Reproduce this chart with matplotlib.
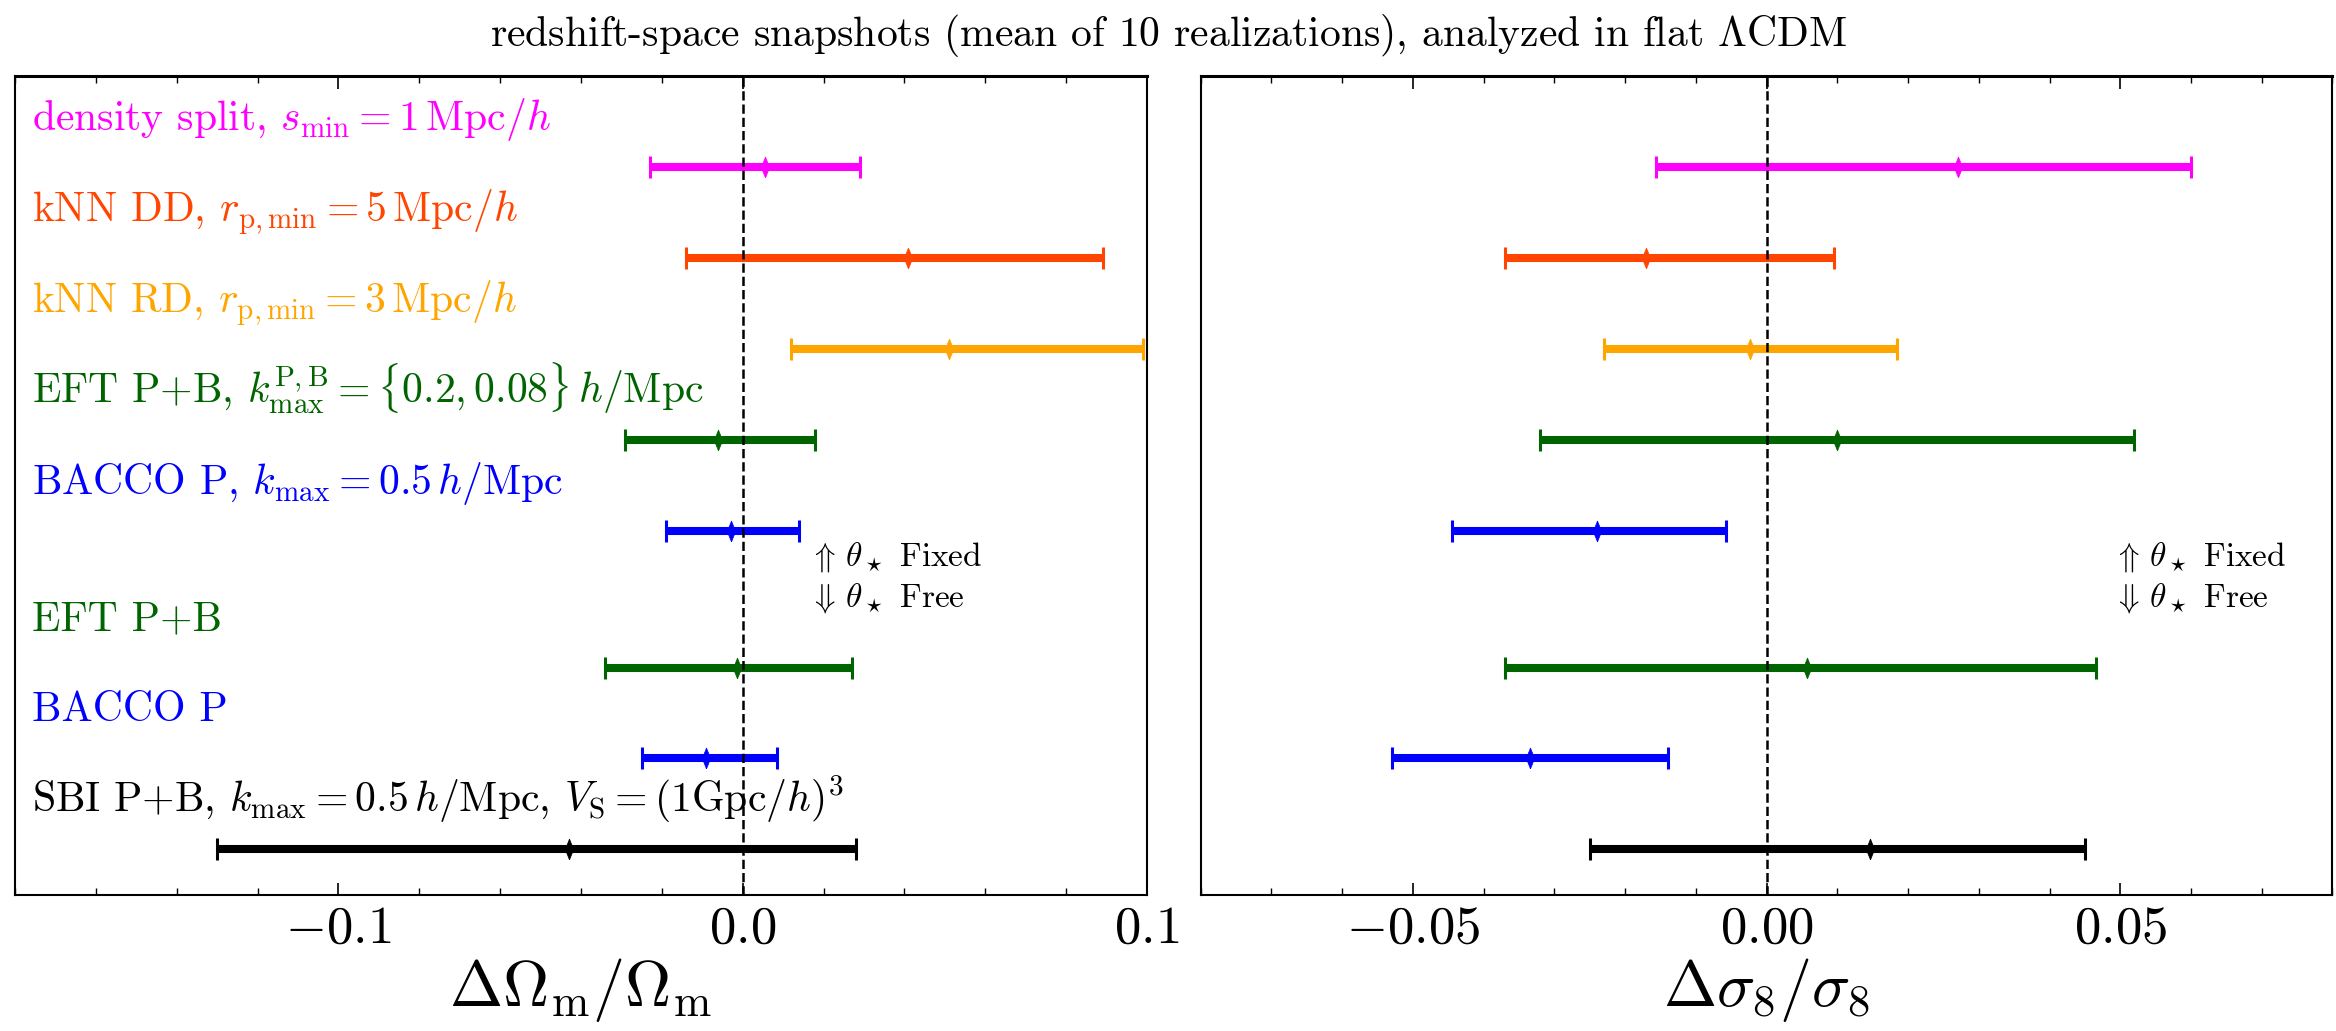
import numpy as np
import matplotlib
matplotlib.use("Agg")
import matplotlib.pyplot as plt
from matplotlib.ticker import MultipleLocator
import matplotlib.transforms as mtransforms

plt.rcParams['font.family'] = ['cmr10', 'DejaVu Serif']
plt.rcParams['mathtext.fontset'] = 'cm'
plt.rcParams['axes.formatter.use_mathtext'] = True

# one row per analysis, top to bottom
labels = [
    r'density split, $s_{\mathrm{min}} = 1\,\mathrm{Mpc}/h$',
    r'kNN DD, $r_{\mathrm{p,min}} = 5\,\mathrm{Mpc}/h$',
    r'kNN RD, $r_{\mathrm{p,min}} = 3\,\mathrm{Mpc}/h$',
    r'EFT P+B, $k_{\mathrm{max}}^{\mathrm{P,B}} = \{0.2, 0.08\}\,h/\mathrm{Mpc}$',
    r'BACCO P, $k_{\mathrm{max}} = 0.5\,h/\mathrm{Mpc}$',
    'EFT P+B',
    'BACCO P',
    r'SBI P+B, $k_{\mathrm{max}} = 0.5\,h/\mathrm{Mpc}$, $V_{\mathrm{S}} = (1\mathrm{Gpc}/h)^3$',
]
colors = ['#FF00FF', '#FF4500', '#FFA500', '#006400', '#0000FF', '#006400', '#0000FF', 'black']
ypos = [0, 1, 2, 3, 4, 5.5, 6.5, 7.5]

# Delta Omega_m / Omega_m : lower, mean, upper
om_lo = [-0.023, -0.014, 0.012, -0.029, -0.019, -0.034, -0.025, -0.130]
om_mid = [0.0056, 0.041, 0.051, -0.006, -0.003, -0.0015, -0.009, -0.043]
om_hi = [0.029, 0.089, 0.099, 0.018, 0.014, 0.027, 0.0085, 0.028]

# Delta sigma_8 / sigma_8 : lower, mean, upper
s8_lo = [-0.0156, -0.037, -0.023, -0.032, -0.0445, -0.037, -0.053, -0.025]
s8_mid = [0.027, -0.017, -0.0023, 0.010, -0.024, 0.0057, -0.0335, 0.0146]
s8_hi = [0.060, 0.0095, 0.0184, 0.052, -0.0057, 0.0466, -0.014, 0.045]

# narrow diamond for the mean
spike = [(0, -1), (0.4, 0), (0, 1), (-0.4, 0), (0, -1)]


def draw_panel(ax, lo, mid, hi, xlim, major, minor, xlabel, note_x):
    for i in range(len(ypos)):
        err = [[mid[i] - lo[i]], [hi[i] - mid[i]]]
        ax.errorbar(mid[i], ypos[i], xerr=err, fmt='none', ecolor=colors[i],
                    elinewidth=5.8, capsize=8, capthick=2.2, zorder=2)
        ax.plot(mid[i], ypos[i], marker=spike, ms=15, color=colors[i],
                mec=colors[i], mew=0.5, zorder=2.5)
    ax.axvline(0, color='k', ls='--', lw=1.8, zorder=3)
    ax.set_xlim(*xlim)
    ax.set_ylim(8, -1)
    ax.set_yticks([])
    ax.xaxis.set_major_locator(MultipleLocator(major))
    ax.xaxis.set_minor_locator(MultipleLocator(minor))
    ax.tick_params(axis='x', which='both', direction='in', top=True, bottom=True,
                   labelsize=38, pad=8)
    ax.tick_params(axis='x', which='major', length=9, width=1.2)
    ax.tick_params(axis='x', which='minor', length=5, width=1)
    for sp in ax.spines.values():
        sp.set_linewidth(1.5)
    ax.spines['top'].set_linewidth(2.2)
    ax.set_xlabel(xlabel, fontsize=46, labelpad=2)
    ax.text(note_x, 4.38, r'$\Uparrow\,\theta_\star$ Fixed', fontsize=24, va='baseline')
    ax.text(note_x, 4.83, r'$\Downarrow\,\theta_\star$ Free', fontsize=24, va='baseline')


fig = plt.figure(figsize=(23.36, 10.31), dpi=100)
ax1 = fig.add_axes([0.0064, 0.132, 0.4846, 0.794])
ax2 = fig.add_axes([0.514, 0.132, 0.4845, 0.794])

draw_panel(ax1, om_lo, om_mid, om_hi, (-0.18, 0.1), 0.1, 0.02,
           r'$\Delta\Omega_{\mathrm{m}}/\Omega_{\mathrm{m}}$', 0.0164)
draw_panel(ax2, s8_lo, s8_mid, s8_hi, (-0.08, 0.08), 0.05, 0.01,
           r'$\Delta\sigma_8/\sigma_8$', 0.049)

trans = mtransforms.blended_transform_factory(ax1.transAxes, ax1.transData)
for i in range(len(labels)):
    ax1.text(0.015, ypos[i] - 0.41, labels[i], color=colors[i], fontsize=30,
             va='baseline', ha='left', transform=trans)

fig.text(0.5, 0.966, r'redshift-space snapshots (mean of 10 realizations), analyzed in flat $\Lambda$CDM',
         ha='center', va='center', fontsize=30)

fig.savefig('out.png', dpi=100)
